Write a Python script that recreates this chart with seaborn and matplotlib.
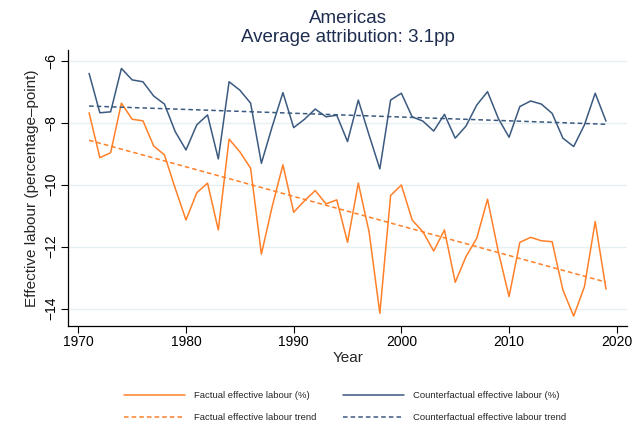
import numpy as np
import pandas as pd
import matplotlib
matplotlib.use("Agg")
import matplotlib.pyplot as plt
import seaborn as sns

years = list(range(1971, 2020))
factual = [-7.68, -9.13, -8.97, -7.37, -7.89, -7.94, -8.75, -9.04, -10.12, -11.14,
           -10.26, -9.95, -11.46, -8.53, -8.94, -9.47, -12.24, -10.71, -9.36, -10.89,
           -10.52, -10.19, -10.62, -10.49, -11.86, -9.95, -11.52, -14.15, -10.35, -10.01,
           -11.14, -11.52, -12.14, -11.46, -13.15, -12.32, -11.73, -10.47, -12.16, -13.61,
           -11.86, -11.70, -11.81, -11.84, -13.40, -14.24, -13.29, -11.19, -13.37]
counterfactual = [-6.41, -7.68, -7.65, -6.25, -6.62, -6.68, -7.14, -7.40, -8.29, -8.88,
                  -8.07, -7.75, -9.17, -6.68, -6.95, -7.37, -9.31, -8.13, -7.03, -8.16,
                  -7.89, -7.56, -7.81, -7.76, -8.61, -7.27, -8.40, -9.49, -7.27, -7.05,
                  -7.81, -7.95, -8.27, -7.73, -8.50, -8.11, -7.43, -7.00, -7.86, -8.47,
                  -7.48, -7.30, -7.40, -7.70, -8.50, -8.77, -8.07, -7.05, -7.95]
title_lines = ["Americas", "Average attribution: 3.1pp"]
labels = ["Factual effective labour (%)", "Factual effective labour trend",
          "Counterfactual effective labour (%)", "Counterfactual effective labour trend"]
xticks = [1970, 1980, 1990, 2000, 2010, 2020]
yticks = [-14, -12, -10, -8, -6]

orange = "#ff8028"
navy = "#3b5a80"

sns.set_style("white")
plt.rcParams["font.family"] = ["Liberation Sans", "DejaVu Sans"]

yr = np.array(years, dtype=float)
f_trend = np.polyval(np.polyfit(yr, factual, 1), yr)
c_trend = np.polyval(np.polyfit(yr, counterfactual, 1), yr)

df = pd.DataFrame({
    "Year": years * 4,
    "value": list(factual) + list(f_trend) + list(counterfactual) + list(c_trend),
    "series": [labels[0]] * len(years) + [labels[1]] * len(years)
              + [labels[2]] * len(years) + [labels[3]] * len(years),
})

fig = plt.figure(figsize=(6.38, 4.25), dpi=100)
ax = fig.add_axes([68.3 / 638, 1 - 325.7 / 425, (627.3 - 68.3) / 638, (325.7 - 50) / 425])

palette = {labels[0]: orange, labels[1]: orange, labels[2]: navy, labels[3]: navy}
dashes = {labels[0]: "", labels[1]: (3, 2), labels[2]: "", labels[3]: (3, 2)}
sns.lineplot(data=df, x="Year", y="value", hue="series", style="series",
             palette=palette, dashes=dashes, hue_order=labels, style_order=labels,
             linewidth=1.1, ax=ax, legend=True)

ax.set_xlim(1969.07, 2020.98)
ax.set_ylim(-14.55, -5.655)
ax.set_xticks(xticks)
ax.set_yticks(yticks)
ax.set_yticklabels([f"\u2212{abs(t)}" for t in yticks], rotation=90, va="center")
ax.tick_params(axis="both", direction="out", length=5, width=0.8, color="black",
               labelsize=10, colors="black", left=True, bottom=True)
ax.tick_params(axis="x", pad=2)
ax.tick_params(axis="y", pad=2)
ax.grid(axis="y", color="#e6eff1", linewidth=1)
ax.grid(axis="x", visible=False)
for s in ["top", "right"]:
    ax.spines[s].set_visible(False)
for s in ["left", "bottom"]:
    ax.spines[s].set_color("black")
    ax.spines[s].set_linewidth(0.9)
ax.set_xlabel("Year", fontsize=11, labelpad=1)
ax.set_ylabel("Effective labour (percentage\u2013point)", fontsize=11, labelpad=4)
ax.set_title("\n".join(title_lines), fontsize=13.5, color="#1e2d4f", pad=6, linespacing=1.15)

handles, lbls = ax.get_legend_handles_labels()
ax.get_legend().remove()
fig.legend(handles, lbls, loc="upper center", bbox_to_anchor=(0.541, 0.089), ncol=2,
           frameon=False, fontsize=6.8, handlelength=6.5, columnspacing=2.8,
           labelspacing=1.4, handletextpad=0.95, borderaxespad=0)

fig.savefig("out.png", dpi=100)
